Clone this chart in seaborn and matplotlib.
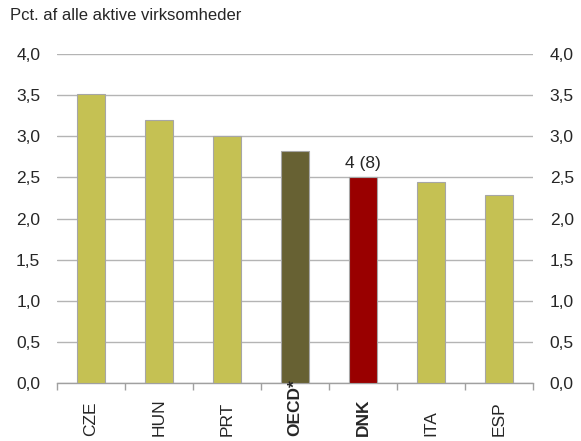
import pandas as pd
import matplotlib.pyplot as plt
import seaborn as sns

countries = ['CZE', 'HUN', 'PRT', 'OECD*', 'DNK', 'ITA', 'ESP']
values = [3.51, 3.20, 3.00, 2.82, 2.50, 2.44, 2.29]
bar_colors = ['#C5C153', '#C5C153', '#C5C153', '#676133', '#990000', '#C5C153', '#C5C153']
bold_labels = ['OECD*', 'DNK']
annot_country = 'DNK'
annot_text = '4 (8)'
yticks = [0.0, 0.5, 1.0, 1.5, 2.0, 2.5, 3.0, 3.5, 4.0]

df = pd.DataFrame({'land': countries, 'pct': values})

sns.set_style('white')
plt.rcParams['font.family'] = ['Liberation Sans', 'DejaVu Sans']

fig = plt.figure(figsize=(5.81, 4.41), dpi=100)
ax = fig.add_axes([0.0981, 0.1315, 0.8193, 0.746])

sns.barplot(data=df, x='land', y='pct', hue='land', palette=bar_colors,
            saturation=1, width=0.41, edgecolor='#A6A6A6', linewidth=0.8,
            legend=False, ax=ax, zorder=3)

ax.set_ylim(0, 4)
ax.set_xlim(-0.5, len(countries) - 0.5)
ax.set_yticks(yticks)
ylabels = [f'{v:.1f}'.replace('.', ',') for v in yticks]
ax.set_yticklabels(ylabels, fontsize=12.5)
ax.tick_params(axis='y', length=0, pad=12, labelright=True, right=False)
ax.grid(axis='y', color='#B4B4B4', linewidth=1, zorder=0)
ax.set_axisbelow(True)

for s in ['top', 'left', 'right']:
    ax.spines[s].set_visible(False)
ax.spines['bottom'].set_color('#A0A0A0')
ax.spines['bottom'].set_linewidth(1)

# ticks between categories
ax.set_xticks([i - 0.5 for i in range(len(countries) + 1)])
ax.set_xticklabels([])
ax.tick_params(axis='x', length=5, color='#A0A0A0', width=1, bottom=True)
ax.set_xlabel('')
ax.set_ylabel('')

trans = ax.get_xaxis_transform()
for i, c in enumerate(countries):
    ax.text(i, -0.16, c, rotation=90, ha='center', va='bottom', fontsize=12.5,
            fontweight='bold' if c in bold_labels else 'normal',
            transform=trans, clip_on=False)

i = countries.index(annot_country)
ax.text(i, values[i] + 0.08, annot_text, ha='center', va='bottom', fontsize=12.5)

fig.text(0.017, 0.965, 'Pct. af alle aktive virksomheder', ha='left', va='center', fontsize=12)

fig.savefig('out.png', dpi=100)
